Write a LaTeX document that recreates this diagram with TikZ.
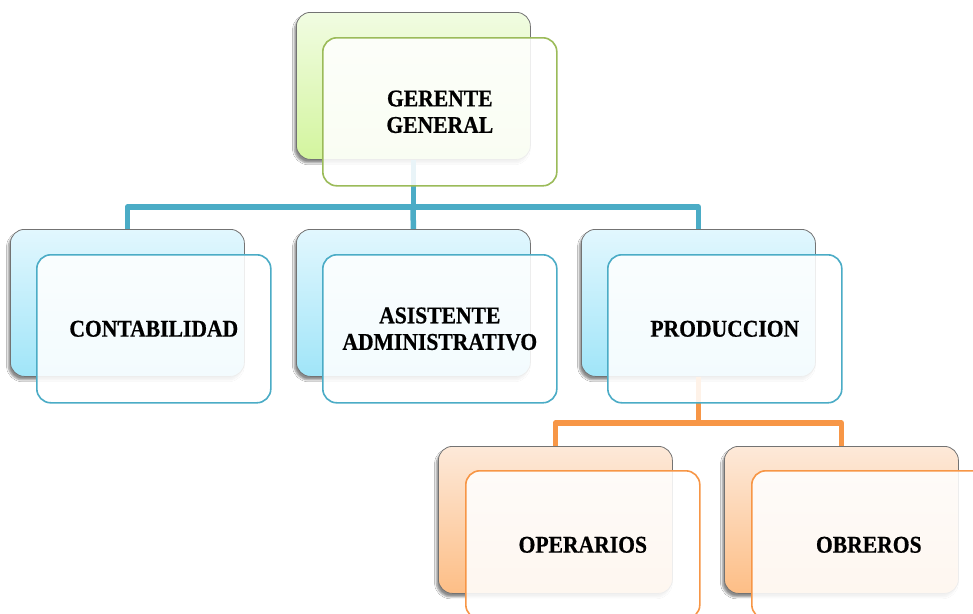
\documentclass[tikz,border=0pt]{standalone}
\usepackage{fontspec}
\setmainfont{Liberation Serif}[BoldFeatures={FakeStretch=0.9,FakeBold=0.6}]
\usetikzlibrary{shadows.blur,calc}
\definecolor{grnB}{HTML}{9BBB59}
\definecolor{bluB}{HTML}{4BACC6}
\definecolor{orgB}{HTML}{F79646}
\definecolor{grnT}{HTML}{F1FCE2}
\definecolor{grnD}{HTML}{D3F59E}
\definecolor{bluT}{HTML}{E2F7FE}
\definecolor{bluD}{HTML}{A0E5F8}
\definecolor{orgT}{HTML}{FDE9D9}
\definecolor{orgD}{HTML}{FDBE86}
\tikzset{
  backbox/.style={rounded corners=14pt, draw=black!55, line width=0.8pt,
    minimum width=234pt, minimum height=147pt, anchor=north west, inner sep=0pt,
    blur shadow={shadow xshift=-2pt, shadow yshift=-3.5pt, shadow blur steps=6, shadow opacity=45}},
  frontbox/.style={rounded corners=14pt, line width=1.6pt, fill=white, fill opacity=0.88,
    text opacity=1, minimum width=234pt, minimum height=148pt, anchor=north west,
    align=center, inner sep=0pt, font=\bfseries\fontsize{24}{26.5}\selectfont},
  greenback/.style={backbox, top color=grnT, bottom color=grnD},
  blueback/.style={backbox, top color=bluT, bottom color=bluD},
  orangeback/.style={backbox, top color=orgT, bottom color=orgD},
  greenfront/.style={frontbox, draw=grnB},
  bluefront/.style={frontbox, draw=bluB},
  orangefront/.style={frontbox, draw=orgB},
  blueline/.style={draw=bluB, line width=5.5pt, line join=round},
  orangeline/.style={draw=orgB, line width=5.5pt, line join=round},
}
\begin{document}
\begin{tikzpicture}[x=1pt,y=-1pt]
\useasboundingbox[fill=white] (0,0) rectangle (973,613);
% back boxes
\node[greenback] (gb) at (296,12) {};
\node[blueback] (cb) at (10,229) {};
\node[blueback] (ab) at (296,229) {};
\node[blueback] (pb) at (581,229) {};
\node[orangeback] (ob) at (438,446) {};
\node[orangeback] (rb) at (724,446) {};
% bus coordinates
\coordinate (bus1) at (413,207);
\coordinate (bus2) at (698,423);
% connectors
\draw[blueline] (gb.south) -- (gb.south |- bus1);
\draw[blueline] (cb.north) |- (bus1) -| (pb.north);
\draw[blueline] (bus1) -- (ab.north);
\draw[orangeline] (pb.south) -- (pb.south |- bus2);
\draw[orangeline] (ob.north) |- (bus2) -| (rb.north);
% front boxes
\node[greenfront] (gf) at (322,37) {GERENTE\\GENERAL};
\node[bluefront] (cf) at (36,254) {CONTABILIDAD};
\node[bluefront] (af) at (322,254) {ASISTENTE\\ADMINISTRATIVO};
\node[bluefront] (pf) at (607,254) {PRODUCCION};
\node[orangefront] (of) at (465,470) {OPERARIOS};
\node[orangefront] (rf) at (751,470) {OBREROS};
\end{tikzpicture}
\end{document}
